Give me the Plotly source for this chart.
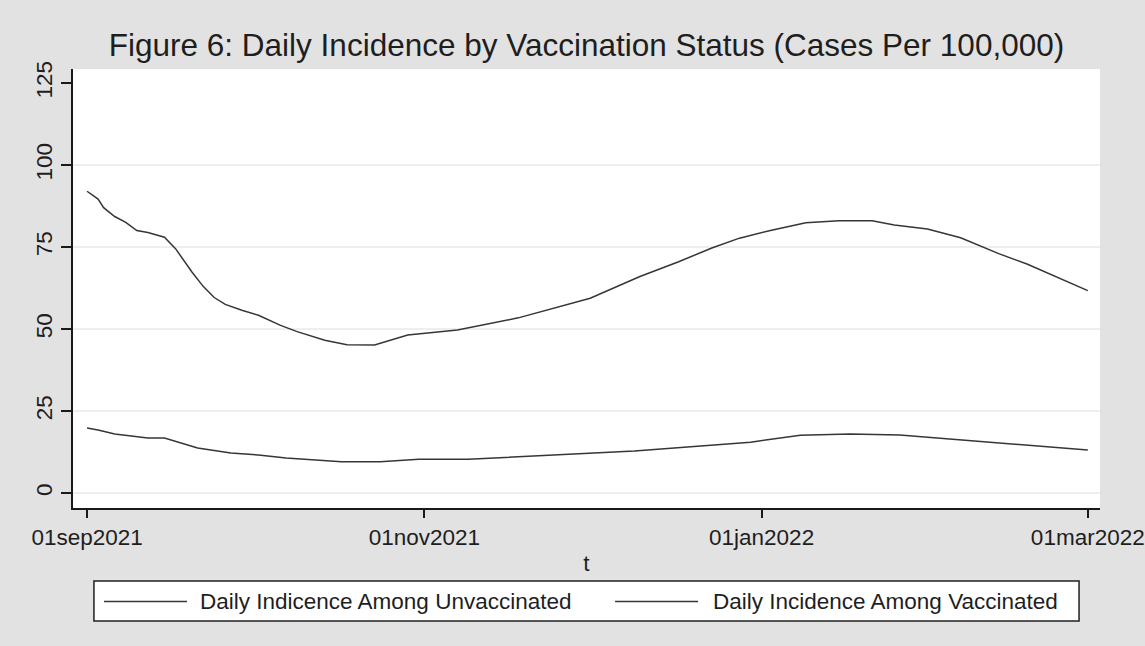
import plotly.graph_objects as go

# ---------------- data ----------------
unvax_dates = ["2021-09-01", "2021-09-03", "2021-09-04", "2021-09-06", "2021-09-08", "2021-09-10",
               "2021-09-12", "2021-09-15", "2021-09-17", "2021-09-18", "2021-09-20", "2021-09-22",
               "2021-09-24", "2021-09-26", "2021-09-29", "2021-10-02", "2021-10-06", "2021-10-09",
               "2021-10-14", "2021-10-18", "2021-10-23", "2021-10-29", "2021-11-07", "2021-11-18",
               "2021-11-22", "2021-12-01", "2021-12-10", "2021-12-17", "2021-12-23", "2021-12-28",
               "2022-01-03", "2022-01-09", "2022-01-15", "2022-01-21", "2022-01-25", "2022-01-31",
               "2022-02-06", "2022-02-09", "2022-02-13", "2022-02-18", "2022-02-24", "2022-03-01"]
unvax_values = [92.0, 89.6, 87.0, 84.3, 82.5, 80.0,
                79.4, 78.0, 74.5, 72.0, 67.3, 63.0,
                59.6, 57.5, 55.7, 54.2, 51.1, 49.2,
                46.6, 45.2, 45.1, 48.2, 49.7, 53.4,
                55.3, 59.4, 66.0, 70.5, 74.7, 77.7,
                80.2, 82.4, 83.0, 83.0, 81.7, 80.5,
                77.8, 75.6, 72.9, 69.8, 65.5, 61.7]

vax_dates = ["2021-09-01", "2021-09-03", "2021-09-06", "2021-09-12", "2021-09-15", "2021-09-21",
             "2021-09-27", "2021-10-02", "2021-10-07", "2021-10-12", "2021-10-17", "2021-10-24",
             "2021-10-31", "2021-11-09", "2021-11-18", "2021-11-29", "2021-12-09", "2021-12-21",
             "2021-12-30", "2022-01-08", "2022-01-17", "2022-01-26", "2022-02-02", "2022-02-11",
             "2022-02-22", "2022-03-01"]
vax_values = [19.8, 19.2, 18.0, 16.8, 16.8, 13.7,
              12.2, 11.6, 10.7, 10.0, 9.5, 9.5,
              10.3, 10.3, 11.0, 11.9, 12.8, 14.3,
              15.5, 17.6, 18.0, 17.7, 16.8, 15.5,
              14.0, 13.1]

series_names = ["Daily Indicence Among Unvaccinated", "Daily Incidence Among Vaccinated"]

x_tick_vals = ["2021-09-01", "2021-11-01", "2022-01-01", "2022-03-01"]
x_tick_text = ["01sep2021", "01nov2021", "01jan2022", "01mar2022"]
y_tick_vals = [0, 25, 50, 75, 100, 125]
y_grid_vals = [0, 25, 50, 75, 100]

title_text = "Figure 6: Daily Incidence by Vaccination Status (Cases Per 100,000)"
x_title = "t"

# ---------------- style ----------------
FONT = "Liberation Sans, Arial, sans-serif"
TXT = "#1e1e1e"
LINE = "#363636"
BG = "#e2e2e2"
FS = 22.5

fig = go.Figure()
fig.add_trace(go.Scatter(x=unvax_dates, y=unvax_values, mode="lines", name=series_names[0],
                         line=dict(color=LINE, width=1.5), showlegend=False))
fig.add_trace(go.Scatter(x=vax_dates, y=vax_values, mode="lines", name=series_names[1],
                         line=dict(color=LINE, width=1.5), showlegend=False))

# gridlines (not drawn at top tick, as in the reference)
for g in y_grid_vals:
    fig.add_shape(type="line", xref="paper", yref="y", x0=0, x1=1, y0=g, y1=g,
                  line=dict(color="#dedede", width=1), layer="below")

# custom legend box (Stata style: long line samples)
fig.add_shape(type="rect", xref="paper", yref="paper", x0=0.0204, x1=0.9796, y0=-0.2574, y1=-0.1663,
              line=dict(color="#202020", width=1.5), fillcolor="white")
leg_items = [(0.0302, 0.1110, 0.1237), (0.5278, 0.6086, 0.6232)]
for (lx0, lx1, tx), name in zip(leg_items, series_names):
    fig.add_shape(type="line", xref="paper", yref="paper", x0=lx0, x1=lx1, y0=-0.2130, y1=-0.2130,
                  line=dict(color=LINE, width=1.5))
    fig.add_annotation(xref="paper", yref="paper", x=tx, y=-0.2120, text=name, showarrow=False,
                       xanchor="left", yanchor="middle", xshift=-2,
                       font=dict(family=FONT, size=FS, color=TXT))

fig.update_layout(
    width=1145, height=646, autosize=False,
    margin=dict(l=73, r=45, t=69, b=138),
    paper_bgcolor=BG, plot_bgcolor="white",
    title=dict(text=title_text, x=0.5, xref="paper", xanchor="center",
               y=1 - 45 / 646, yref="container", yanchor="middle",
               font=dict(family=FONT, size=31.5, color=TXT)),
    font=dict(family=FONT, color=TXT),
    xaxis=dict(range=["2021-08-29 11:00", "2022-03-03 05:00"], tickvals=x_tick_vals, ticktext=x_tick_text,
               automargin=False,
               showgrid=False, zeroline=False, showline=True, linecolor="#1a1a1a", linewidth=1.5,
               ticks="outside", ticklen=8, tickwidth=1.5, tickcolor="#1a1a1a",
               tickfont=dict(family=FONT, size=FS, color=TXT),
               title=dict(text=x_title, font=dict(family=FONT, size=FS, color=TXT), standoff=6)),
    yaxis=dict(range=[-4.57, 129.27], tickvals=y_tick_vals, tickangle=-90, automargin=False,
               showgrid=False, zeroline=False, showline=True, linecolor="#1a1a1a", linewidth=1.5,
               ticks="outside", ticklen=10, tickwidth=1.5, tickcolor="#1a1a1a",
               tickfont=dict(family=FONT, size=FS, color=TXT)),
)

post = (
    "document.documentElement.style.margin='0';"
    "document.body.style.margin='0';document.body.style.overflow='hidden';"
    "var gd=document.getElementById('{plot_id}');"
    "Plotly.relayout(gd,{width:1145,height:646});"
)
fig.write_html("out.html", config={"displayModeBar": False, "responsive": False}, post_script=post)
